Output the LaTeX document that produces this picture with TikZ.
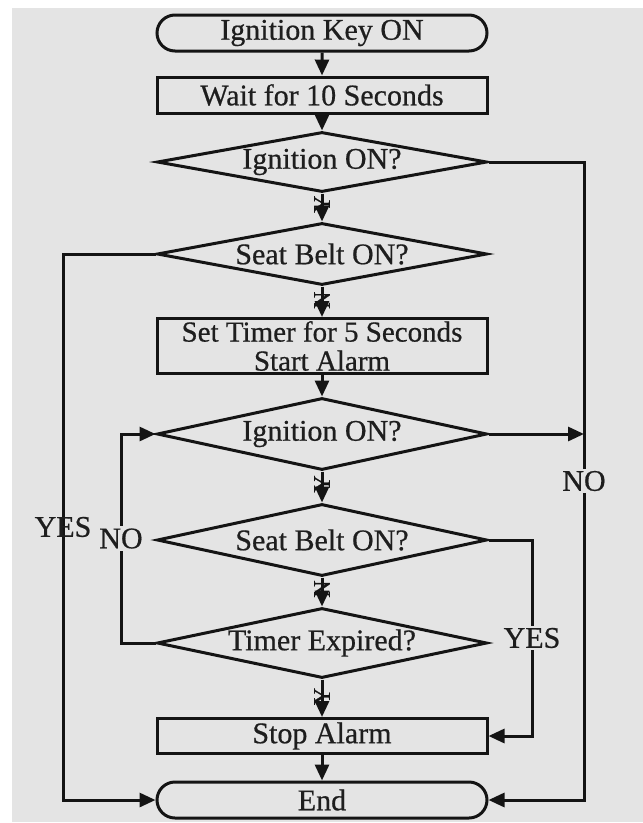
\documentclass[tikz,border=0pt]{standalone}
\usepackage{fontspec}
\setmainfont{Liberation Serif}
\newfontfamily\scanFont{Liberation Serif}[FakeBold=0.6]
\definecolor{bgScan}{HTML}{E4E4E4}
\definecolor{inkLine}{HTML}{141414}
\definecolor{inkText}{HTML}{1E1E1E}
\usepackage{tikz}
\usetikzlibrary{positioning, shapes.geometric, shapes.misc, arrows.meta}
\newcommand{\qText}[1]{\makebox[0pt]{#1}}
\tikzset{
  flowText/.style={text=inkText, font=\scanFont\fontsize{30}{30}\selectfont},
  termNode/.style={flowText, draw=inkLine, line width=3pt, rounded rectangle,
                   minimum width=330pt, minimum height=36pt, inner sep=0pt},
  procNode/.style={flowText, draw=inkLine, line width=3pt, rectangle,
                   minimum width=330pt, inner sep=0pt, align=center},
  decNode/.style={flowText, draw=inkLine, line width=3pt, diamond,
                  minimum width=330pt, inner sep=0pt},
  flowArrow/.style={draw=inkLine, line width=3pt, -{Triangle[length=16pt, width=14pt]}},
  flowLabel/.style={flowText, fill=bgScan, inner sep=2pt},
  ynMark/.style={text=inkLine, font=\scanFont\fontsize{24}{24}\selectfont, rotate=90, inner sep=0pt}
}

\begin{document}
\begin{tikzpicture}[x=1pt, y=-1pt]
  % scanned sheet
  \fill[white] (0,0) rectangle (643,823);
  \fill[bgScan] (12,8) rectangle (643,822);

  \node[termNode] (keyOn) at (322,33) {Ignition Key ON};
  \node[procNode, minimum height=36pt] (wait) at (322,95) {Wait for 10 Seconds};
  \node[decNode, minimum height=60pt] (ignA) at (322,162) {\qText{Ignition ON?}};
  \node[decNode, minimum height=62pt] (beltA) at (322,254) {\qText{Seat Belt ON?}};
  \node[procNode, minimum height=55pt, font=\scanFont\fontsize{29}{29}\selectfont]
    (timer) at (322,346) {Set Timer for 5 Seconds\\Start Alarm};
  \node[decNode, minimum height=72pt] (ignB) at (322,434) {\qText{Ignition ON?}};
  \node[decNode, minimum height=72pt] (beltB) at (322,540) {\qText{Seat Belt ON?}};
  \node[decNode, minimum height=70pt] (expired) at (322,643) {\qText{Timer Expired?}};
  \node[procNode, minimum height=35pt] (stopAlarm) at (322,736) {Stop Alarm};
  \node[termNode] (finish) at (322,800) {End};

  % rails
  \coordinate (railL) at (63,0);
  \coordinate (loopL) at (121,0);
  \coordinate (railYes) at (532,0);
  \coordinate (railR) at (584,0);

  % main column
  \draw[flowArrow] (keyOn) -- (wait);
  \draw[flowArrow] (wait) -- (ignA);
  \draw[flowArrow] (ignA) -- node[ynMark, pos=0.38] {Y} (beltA);
  \draw[flowArrow] (beltA) -- node[ynMark, pos=0.45] {N} (timer);
  \draw[flowArrow] (timer) -- (ignB);
  \draw[flowArrow] (ignB) -- node[ynMark, pos=0.4] {Y} (beltB);
  \draw[flowArrow] (beltB) -- node[ynMark, pos=0.4] {N} (expired);
  \draw[flowArrow] (expired) -- node[ynMark, pos=0.45] {Y} (stopAlarm);
  \draw[flowArrow] (stopAlarm) -- (finish);

  % side paths
  \draw[flowArrow] (ignA.east) -- (ignA.east -| railR)
    -- node[flowLabel, pos=0.5] {NO} (finish.east -| railR) -- (finish.east);
  \draw[flowArrow] (ignB.east) -- (ignB.east -| railR);
  \draw[flowArrow] (beltA.west) -- (beltA.west -| railL)
    -- node[flowLabel, fill=none, pos=0.5] {YES} (finish.west -| railL) -- (finish.west);
  \draw[flowArrow] (expired.west) -- (expired.west -| loopL)
    -- node[flowLabel, pos=0.5] {NO} (ignB.west -| loopL) -- (ignB.west);
  \draw[flowArrow] (beltB.east) -- (beltB.east -| railYes)
    -- node[flowLabel, pos=0.5] {YES} (stopAlarm.east -| railYes) -- (stopAlarm.east);
\end{tikzpicture}
\end{document}
